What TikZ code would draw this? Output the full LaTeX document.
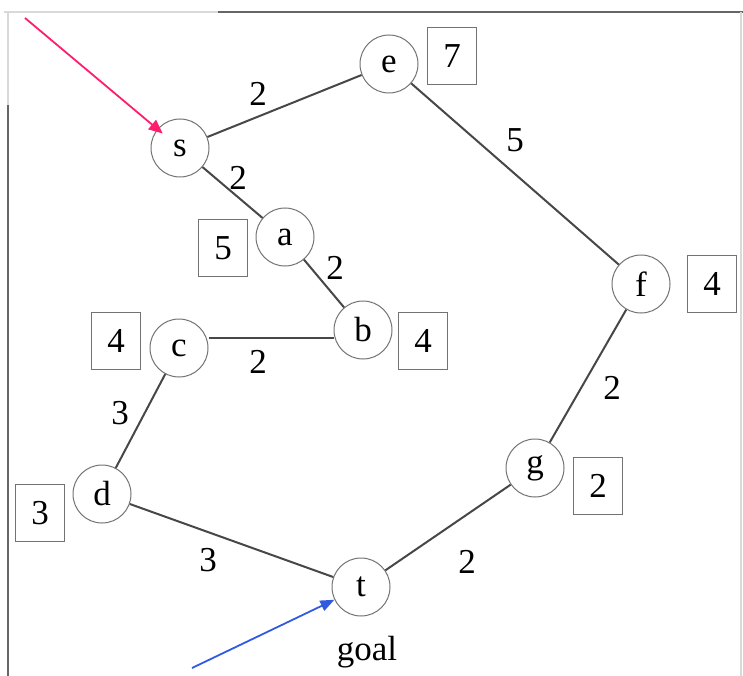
\documentclass[tikz,border=0pt]{standalone}
\usepackage{fontspec}
\setmainfont{Liberation Serif}
\usetikzlibrary{arrows.meta}
\begin{document}
\begin{tikzpicture}[x=1pt,y=-1pt,
  vtx/.style={circle,draw=black!55,line width=1pt,minimum size=58pt,inner sep=0pt,font=\fontsize{35}{40}\selectfont,fill=white},
  hbox/.style={rectangle,draw=black!55,line width=1pt,minimum width=49pt,minimum height=57pt,inner sep=0pt,font=\fontsize{35}{40}\selectfont},
  wt/.style={inner sep=0pt,font=\fontsize{35}{40}\selectfont},
  edge/.style={draw=black!72,line width=2pt},
  frm/.style={line width=2pt}]
\useasboundingbox (0,0) rectangle (743,676);
% frame
\draw[frm,draw=black!15] (4,12) -- (218,12);
\draw[frm,draw=black!60] (218,12) -- (743,12);
\draw[frm,draw=black!15] (8,12) -- (8,105);
\draw[frm,draw=black!60] (8,105) -- (8,676);
\draw[frm,draw=black!15] (741,12) -- (741,676);
% vertices
\node[vtx] (s) at (180,148) {s};
\node[vtx] (e) at (389,64) {e};
\node[vtx] (a) at (285,237) {a};
\node[vtx] (b) at (363,330) {b};
\node[vtx] (c) at (179,348) {c};
\node[vtx] (d) at (102,494) {d};
\node[vtx] (t) at (361,587) {t};
\node[vtx] (g) at (535,468) {g};
\node[vtx] (f) at (641,284) {f};
% heuristic boxes
\node[hbox] (he) at (452,56) {7};
\node[hbox] (ha) at (223,248) {5};
\node[hbox] (hb) at (423,341) {4};
\node[hbox] (hc) at (116,341) {4};
\node[hbox] (hd) at (40,513) {3};
\node[hbox] (hf) at (712,284) {4};
\node[hbox] (hg) at (598,486) {2};
% edges
\draw[edge] (s) -- (e);
\draw[edge] (s) -- (a);
\draw[edge] (a) -- (b);
\draw[edge] (e) -- (f);
\draw[edge] (c.east |- 0,338) coordinate (cb1) -- (b.west |- 0,338) coordinate (cb2);
\draw[edge] (c) -- (d);
\draw[edge] (d) -- (t);
\draw[edge] (t) -- (g);
\draw[edge] (f) -- (g);
% weights
\node[wt] (w1) at (258,94) {2};
\node[wt] (w2) at (238,178) {2};
\node[wt] (w3) at (335,268) {2};
\node[wt] (w4) at (515,140) {5};
\node[wt] (w5) at (258,362) {2};
\node[wt] (w6) at (120,413) {3};
\node[wt] (w7) at (208,560) {3};
\node[wt] (w8) at (467,562) {2};
\node[wt] (w9) at (612,388) {2};
% goal
\node[wt] (goal) at (367,652) {goal};
% arrows
\coordinate (r0) at (25,18);
\coordinate (b0) at (192,668);
\draw[draw={rgb,255:red,255;green,30;blue,110},line width=1.8pt,-{Triangle[length=14pt,width=12pt]},shorten >=-7pt] (r0) -- (s);
\draw[draw={rgb,255:red,50;green,90;blue,225},line width=1.8pt,-{Triangle[length=14pt,width=11pt]}] (b0) -- (t);
\end{tikzpicture}
\end{document}
